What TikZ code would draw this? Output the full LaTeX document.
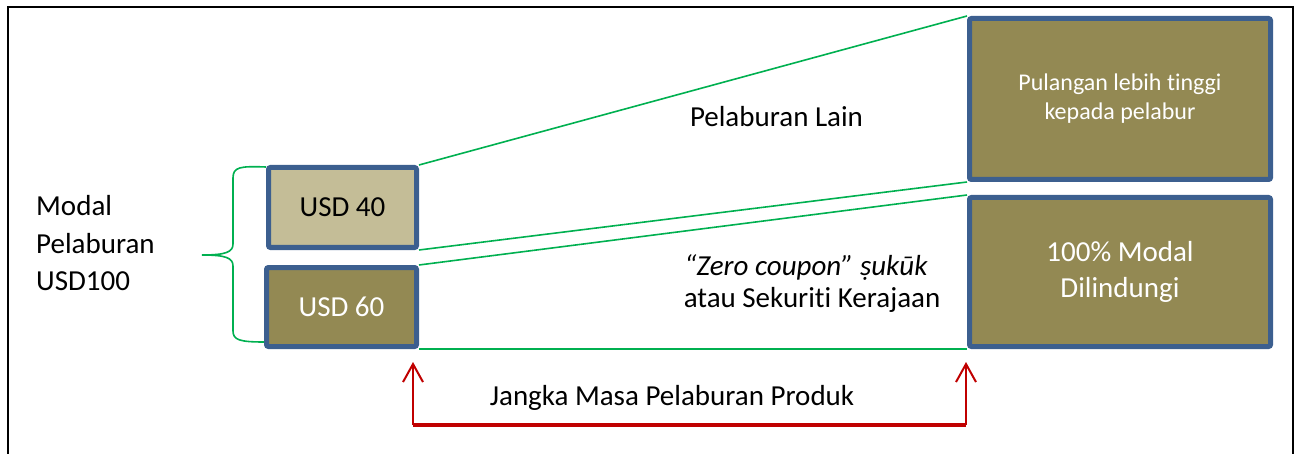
\documentclass[tikz,border=0pt]{standalone}
\usepackage{fontspec}
\setmainfont{Carlito}[Ligatures=NoCommon]
\usetikzlibrary{arrows.meta,backgrounds}
\definecolor{boxblue}{HTML}{3C5F8F}
\definecolor{tanfill}{HTML}{C4BD97}
\definecolor{olivefill}{HTML}{938953}
\definecolor{linegreen}{HTML}{00B050}
\definecolor{darkred}{HTML}{C00000}
\begin{document}
\begin{tikzpicture}[x=1pt,y=-1pt,
  box/.style={draw=boxblue, line width=5pt, rounded corners=2pt, inner sep=0pt, align=center},
  conn/.style={draw=linegreen, line width=1.6pt},
  big/.style={font=\fontsize{29}{36}\selectfont},
  lbl/.style={inner sep=0pt, anchor=base, big},
  redline/.style={draw=darkred, line width=2pt},
  redarrow/.style={redline, -{Straight Barb[length=18pt,width=20pt]}}]
\useasboundingbox (0,0) rectangle (1297,454);
% frame
\draw[line width=1.6pt] (8,454) -- (8,7) -- (1293,7) -- (1293,454);
% boxes
\node[box, fill=tanfill, minimum width=148pt, minimum height=80pt, big] (b40) at (342.5,207.5) {USD 40};
\node[box, fill=olivefill, text=white, minimum width=150pt, minimum height=79pt, big] (b60) at (341.5,307) {USD 60};
\node[box, fill=olivefill, text=white, minimum width=301pt, minimum height=161pt, font=\fontsize{24}{29}\selectfont] (tr) at (1120,99) {Pulangan lebih tinggi\\kepada pelabur};
\node[box, fill=olivefill, text=white, minimum width=301pt, minimum height=149pt, big] (br) at (1120,272) {100\% Modal\\Dilindungi};
% connectors
\begin{scope}[on background layer]
\draw[conn] (b40.north east) -- (tr.north west);
\draw[conn] (b40.south east) -- (tr.south west);
\draw[conn] (b60.north east) -- (br.north west);
\draw[conn] (b60.south east) -- (br.south west);
\end{scope}
% brace
\draw[conn] (266,167) .. controls (240,166) and (233,167) .. (233,178) -- (233,244)
  .. controls (233,252) and (226,255) .. (202,255)
  .. controls (226,255) and (233,258) .. (233,266) -- (233,331)
  .. controls (233,340) and (240,342) .. (264,342);
% left labels
\node[lbl, anchor=base west] (m1) at (36,216) {Modal};
\node[lbl, anchor=base west] (m2) at (36,253) {Pelaburan};
\node[lbl, anchor=base west] (m3) at (36,290) {USD100};
% middle labels
\node[lbl] (lain) at (776.5,127) {Pelaburan Lain};
\node[lbl] (zero) at (806,275) {\itshape “Zero coupon” ṣukūk};
\node[lbl] (atau) at (812,307) {atau Sekuriti Kerajaan};
\node[lbl] (jangka) at (672,405) {Jangka Masa Pelaburan Produk};
% red span arrow
\coordinate (c1) at (413,425);
\coordinate (c2) at (966,425);
\coordinate (t1) at (413,362);
\coordinate (t2) at (966,362);
\draw[draw=darkred, line width=3.5pt] (c1) -- (c2);
\draw[redarrow] (c1) -- (t1);
\draw[redarrow] (c2) -- (t2);
\end{tikzpicture}
\end{document}
